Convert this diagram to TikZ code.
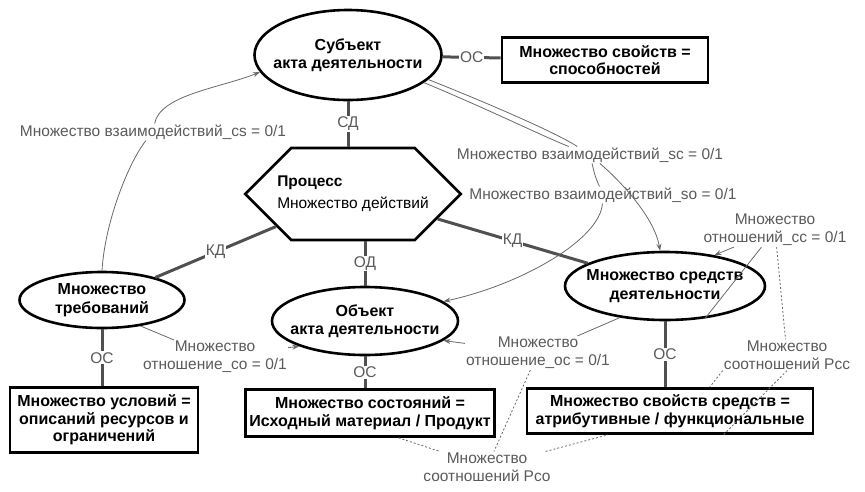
\documentclass[tikz,border=0pt]{standalone}
\usepackage{fontspec}
\setmainfont{Liberation Sans}
\usetikzlibrary{shapes.geometric,shapes.symbols,arrows.meta}

\definecolor{linkgray}{RGB}{80,80,80}
\definecolor{labgray}{RGB}{90,90,90}
\definecolor{thingray}{RGB}{105,105,105}

\begin{document}
\begin{tikzpicture}[x=1pt, y=1pt,
  font=\fontsize{15.5}{18}\selectfont,
  ellnode/.style={ellipse, draw, line width=2.6pt, inner xsep=-14pt, inner ysep=0pt,
    align=center, font=\fontsize{16}{18.5}\selectfont\bfseries},
  boxnode/.style={rectangle, draw, line width=2.6pt, inner sep=0pt,
    align=center, font=\fontsize{16}{17.5}\selectfont\bfseries},
  hexnode/.style={signal, signal to=west and east, signal pointer angle=90,
    draw, line width=2.6pt, inner xsep=-14pt, inner ysep=0pt, align=left},
  linkline/.style={draw=linkgray, line width=3pt},
  linklbl/.style={fill=white, text=labgray, inner sep=1pt},
  graylbl/.style={text=labgray, inner sep=1pt, align=center},
  thinarrow/.style={draw=thingray, line width=0.8pt, -{Stealth[length=7pt,width=5pt]}},
  dashline/.style={draw=thingray, line width=0.8pt, dash pattern=on 2pt off 2pt}]
\useasboundingbox (0,0) rectangle (865,-491);

% main nodes
\node[ellnode, minimum width=187, minimum height=90] (subj) at (348,-55) {Субъект\\акта деятельности};
\node[boxnode, minimum width=206, minimum height=45] (props) at (605,-60) {Множество свойств =\\способностей};
\node[hexnode, minimum height=92] (proc) at (353,-194) {\textbf{Процесс}\\[4pt]Множество действий};
\node[ellnode, minimum width=165, minimum height=56] (req) at (102,-300) {Множество\\требований};
\node[boxnode, minimum width=188, minimum height=65] (cond) at (104,-420) {Множество условий =\\описаний ресурсов и\\ограничений};
\node[ellnode, minimum width=186, minimum height=68] (obj) at (365,-321) {Объект\\акта деятельности};
\node[boxnode, minimum width=249, minimum height=47] (state) at (370,-413) {Множество состояний =\\Исходный материал / Продукт};
\node[ellnode, minimum width=200, minimum height=68] (means) at (665,-286) {Множество средств\\деятельности};
\node[boxnode, minimum width=286, minimum height=45] (mprops) at (670,-411) {Множество свойств средств =\\атрибутивные / функциональные};

% relation labels
\node[graylbl] (cslbl) at (153,-132) {Множество взаимодействий\_cs = 0/1};
\node[graylbl] (sclbl) at (590,-155) {Множество взаимодействий\_sc = 0/1};
\node[graylbl] (solbl) at (603,-195) {Множество взаимодействий\_so = 0/1};
\node[graylbl] (cclbl) at (775,-230) {Множество\\отношений\_cc = 0/1};
\node[graylbl] (colbl) at (215,-357) {Множество\\отношение\_co = 0/1};
\node[graylbl] (oclbl) at (538,-353) {Множество\\отношение\_oc = 0/1};
\node[graylbl] (rcolbl) at (487,-467) {Множество\\соотношений Рсо};
\node[graylbl] (rcclbl) at (787,-355) {Множество\\соотношений Рсс};

% thick links
\draw[linkline] (subj) -- node[linklbl]{ОС} (props);
\draw[linkline] (subj.south) -- node[linklbl]{СД} (subj.south |- proc.north);
\draw[linkline] (proc) -- node[linklbl]{КД} (req);
\draw[linkline] (proc) -- node[linklbl]{КД} (means);
\draw[linkline] (obj.north |- proc.south) -- node[linklbl]{ОД} (obj.north);
\draw[linkline] (req.south) -- node[linklbl]{ОС} (req.south |- cond.north);
\draw[linkline] (obj.south) -- node[linklbl]{ОС} (obj.south |- state.north);
\draw[linkline] (means.south) -- node[linklbl]{ОС} (means.south |- mprops.north);

% interactions
\draw[thinarrow] (req.north) .. controls (105,-220) and (130,-160) .. (cslbl)
  .. controls (160,-95) and (220,-88) .. (subj.191);
\draw[thinarrow] (subj.343) .. controls (500,-108) and (560,-135) .. (sclbl)
  .. controls (625,-185) and (655,-220) .. (means.98);
\draw[thinarrow] (subj.340) .. controls (490,-110) and (540,-135) .. (sclbl)
  .. controls (595,-176) .. (solbl)
  .. controls (600,-240) and (520,-285) .. (obj.14);
\draw[thinarrow] (means.321) -- (cclbl) -- (means.32);
\draw[thinarrow] (req.326) -- (colbl) -- (obj.201);
\draw[thinarrow] (means.215) -- (oclbl) -- (obj.346);

% ratios
\draw[dashline] (state.319) -- (rcolbl) -- (mprops.201);
\draw[dashline] (oclbl) -- (rcolbl);
\draw[dashline] (cclbl) -- (rcclbl);
\draw[dashline] (rcclbl.south west) -- (mprops.31);
\draw[dashline] (rcclbl.south) -- (mprops.336);
\end{tikzpicture}
\end{document}
